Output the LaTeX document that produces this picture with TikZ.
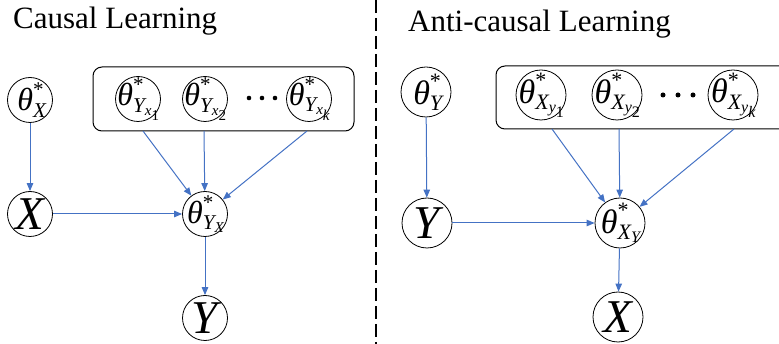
\documentclass[tikz,border=0pt]{standalone}
\usepackage{amsmath}
\usepackage{fontspec}
\setmainfont{Liberation Serif}
\usetikzlibrary{arrows.meta}

\definecolor{edgeblue}{HTML}{4472C4}

% script sizes used by the parameter labels
\DeclareMathSizes{32}{32}{21}{15}
\DeclareMathSizes{34}{34}{22}{16}

% italic letters set in the text font inside math
\newcommand{\vth}{\text{\itshape θ}}
\newcommand{\vl}[1]{\text{\itshape #1}}
\newcommand{\vst}{\text{*}}

\begin{document}
\begin{tikzpicture}[x=1pt,y=-1pt,
  smallvar/.style={circle, draw, line width=0.8pt, minimum size=45, inner sep=0pt},
  bigvar/.style={circle, draw, line width=0.8pt, minimum size=50, inner sep=0pt},
  smalltheta/.style={inner sep=0pt, font=\fontsize{32}{36}\selectfont},
  bigtheta/.style={inner sep=0pt, font=\fontsize{34}{38}\selectfont},
  lettertext/.style={font=\fontsize{47}{50}\selectfont\itshape, inner sep=0pt},
  group/.style={draw, line width=1pt, rounded corners=9pt},
  edge/.style={draw=edgeblue, line width=1pt,
    -{Triangle[length=8pt,width=6.5pt]}},
  divider/.style={line width=2pt, dash pattern=on 13pt off 5pt},
  heading/.style={font=\fontsize{31}{36}\selectfont, inner sep=0pt, anchor=base west},
  dot/.style={fill=black}
]
\useasboundingbox (0,0) rectangle (779,344);

% panel titles
\node[heading] (t1) at (13,29) {Causal Learning};
\node[heading] (t2) at (408,32) {Anti-causal Learning};

% dashed separator
\coordinate (d1) at (376,0);
\coordinate (d2) at (376,344);
\draw[divider] (d1) -- (d2);

% ---------- causal model ----------
\draw[group] (93,67) rectangle (354,131);

\node[smallvar] (tx) at (30,100) {};
\node[smalltheta] at ([xshift=2pt]tx) {$\vth^{\vst}_{\vl{X}}$};

\node[smallvar] (ty1) at (138,99) {};
\node[smalltheta] at ([xshift=1pt]ty1) {$\vth^{\vst}_{\vl{Y}_{\vl{x}_{\text{1}}}}$};
\node[smallvar] (ty2) at (205,99) {};
\node[smalltheta] at ([xshift=1pt]ty2) {$\vth^{\vst}_{\vl{Y}_{\vl{x}_{\text{2}}}}$};
\node[smallvar] (tyk) at (309,99) {};
\node[smalltheta] at ([xshift=1pt]tyk) {$\vth^{\vst}_{\vl{Y}_{\vl{x}_{\vl{k}}}}$};

\fill[dot] (249,98) circle (2.3) (262,98) circle (2.3) (275,98) circle (2.3);

\node[smallvar] (xl) at (30,214) {};
\node[lettertext] at (xl) {X};
\node[smallvar] (tyx) at (205,214) {};
\node[smalltheta] at ([xshift=1pt]tyx) {$\vth^{\vst}_{\vl{Y}_{\vl{X}}}$};
\node[smallvar] (yl) at (205,318) {};
\node[lettertext] at (yl) {Y};

\coordinate (b1) at (143,131);
\coordinate (b2) at (204,131);
\coordinate (b3) at (307,131);

\draw[edge] (tx) -- (xl);
\draw[edge] (xl) -- (tyx);
\draw[edge] (b1) -- (tyx);
\draw[edge] (b2) -- (tyx);
\draw[edge] (b3) -- (tyx);
\draw[edge] (tyx) -- (yl);

% ---------- anti-causal model ----------
\draw[group] (496,66) rectangle (790,129);

\node[bigvar] (ty) at (426,92) {};
\node[bigtheta] at ([xshift=2pt]ty) {$\vth^{\vst}_{\vl{Y}}$};

\node[bigvar] (tx1) at (541,95) {};
\node[bigtheta] at ([xshift=1pt]tx1) {$\vth^{\vst}_{\vl{X}_{\vl{y}_{\text{1}}}}$};
\node[bigvar] (tx2) at (617,95) {};
\node[bigtheta] at ([xshift=1pt]tx2) {$\vth^{\vst}_{\vl{X}_{\vl{y}_{\text{2}}}}$};
\node[bigvar] (txk) at (733,95) {};
\node[bigtheta] at ([xshift=1pt]txk) {$\vth^{\vst}_{\vl{X}_{\vl{y}_{\vl{k}}}}$};

\fill[dot] (663,95) circle (2.5) (678,95) circle (2.5) (693,95) circle (2.5);

\node[bigvar] (yr) at (427,223) {};
\node[lettertext] at (yr) {Y};
\node[bigvar] (txy) at (620,223) {};
\node[bigtheta] at ([xshift=1pt]txy) {$\vth^{\vst}_{\vl{X}_{\vl{Y}}}$};
\node[bigvar] (xr) at (618,317) {};
\node[lettertext] at (xr) {X};

\coordinate (c1) at (552,129);
\coordinate (c2) at (619,129);
\coordinate (c3) at (734,129);

\draw[edge] (ty) -- (yr);
\draw[edge] (yr) -- (txy);
\draw[edge] (c1) -- (txy);
\draw[edge] (c2) -- (txy);
\draw[edge] (c3) -- (txy);
\draw[edge] (txy) -- (xr);
\end{tikzpicture}
\end{document}
